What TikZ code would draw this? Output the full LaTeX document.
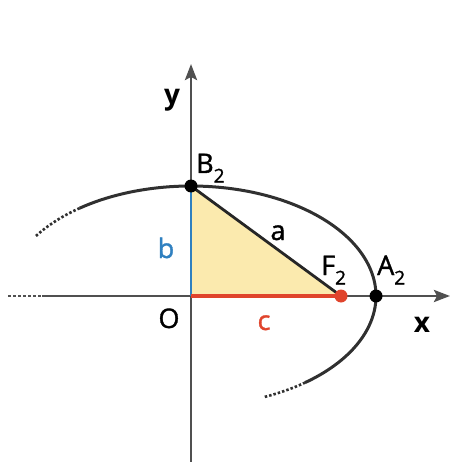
\documentclass[tikz,border=0pt]{standalone}
\usepackage{fontspec}
\setmainfont{Open Sans}
\newfontfamily\lblfont[RawFeature={embolden=1.3}]{Open Sans}
\usetikzlibrary{arrows.meta}
\definecolor{axisgray}{HTML}{505050}
\definecolor{curvegray}{HTML}{303030}
\definecolor{bblue}{HTML}{2F80C0}
\definecolor{cred}{HTML}{E0442C}
\definecolor{tfill}{HTML}{FBEAAE}
\tikzset{
  axis/.style={line width=2.8pt, draw=axisgray},
  curve/.style={line width=3pt, draw=curvegray},
  curvedot/.style={line width=2.6pt, draw=curvegray, dash pattern=on 2.5pt off 2pt},
  lbl/.style={inner sep=0pt, font=\lblfont\fontsize{27}{30}\selectfont},
  pt/.style={circle, fill=black, inner sep=0pt, minimum size=13pt},
}
\newcommand{\subtwo}{\raisebox{-9.5pt}{\fontsize{19}{20}\selectfont 2}}
\begin{document}
\begin{tikzpicture}[x=1pt,y=-1pt]
\useasboundingbox (0,0) rectangle (452,462);
% key points
\coordinate (O) at (191,296);
\coordinate (B) at (191,186);
\coordinate (F) at (341,296);
\coordinate (A) at (376,296);
\coordinate (xl) at (8,296);
\coordinate (xd) at (42,296);
\coordinate (xr) at (450,296);
\coordinate (yt) at (191,64);
\coordinate (yb) at (191,462);
% triangle fill
\fill[tfill] (O) -- (B) -- (F) -- cycle;
% axes
\draw[axis, dash pattern=on 3pt off 2pt] (xl) -- (xd);
\draw[axis, -{Stealth[length=16pt,width=12pt,inset=3pt]}] (xd) -- (xr);
\draw[axis, -{Stealth[length=16pt,width=12pt,inset=3pt]}] (yb) -- (yt);
% ellipse arc
\draw[curve] plot[domain=-52:127, samples=90, smooth] ({191+185*cos(\x)}, {296-110*sin(\x)});
\draw[curvedot] plot[domain=127:147.5, samples=15, smooth] ({191+185*cos(\x)}, {296-110*sin(\x)});
\draw[curvedot] plot[domain=-66.5:-52, samples=15, smooth] ({191+185*cos(\x)}, {296-110*sin(\x)});
% segments
\draw[line width=2.8pt, bblue] (O) -- (B);
\draw[line width=3.2pt, cred] (O) -- (F);
\draw[line width=2.8pt, black!85] (B) -- (F);
% points
\node[pt] (Bp) at (B) {};
\node[pt] (Ap) at (A) {};
\node[pt, fill=cred] (Fp) at (F) {};
% labels
\node[lbl, anchor=base, font=\fontsize{28}{30}\selectfont\bfseries] (ylab) at (172,105) {y};
\node[lbl, anchor=base, font=\fontsize{28}{30}\selectfont\bfseries] (xlab) at (422,332) {x};
\node[lbl, anchor=base west] (Blab) at (196,173) {B\subtwo};
\node[lbl, anchor=base west] (Flab) at (321,275) {F\subtwo};
\node[lbl, anchor=base west] (Alab) at (377,275) {A\subtwo};
\node[lbl, anchor=base] (Olab) at (169,328) {O};
\node[lbl, anchor=base] (alab) at (278,240) {a};
\node[lbl, anchor=base, text=bblue] (blab) at (166,258) {b};
\node[lbl, anchor=base, text=cred] (clab) at (264,330) {c};
\end{tikzpicture}
\end{document}
